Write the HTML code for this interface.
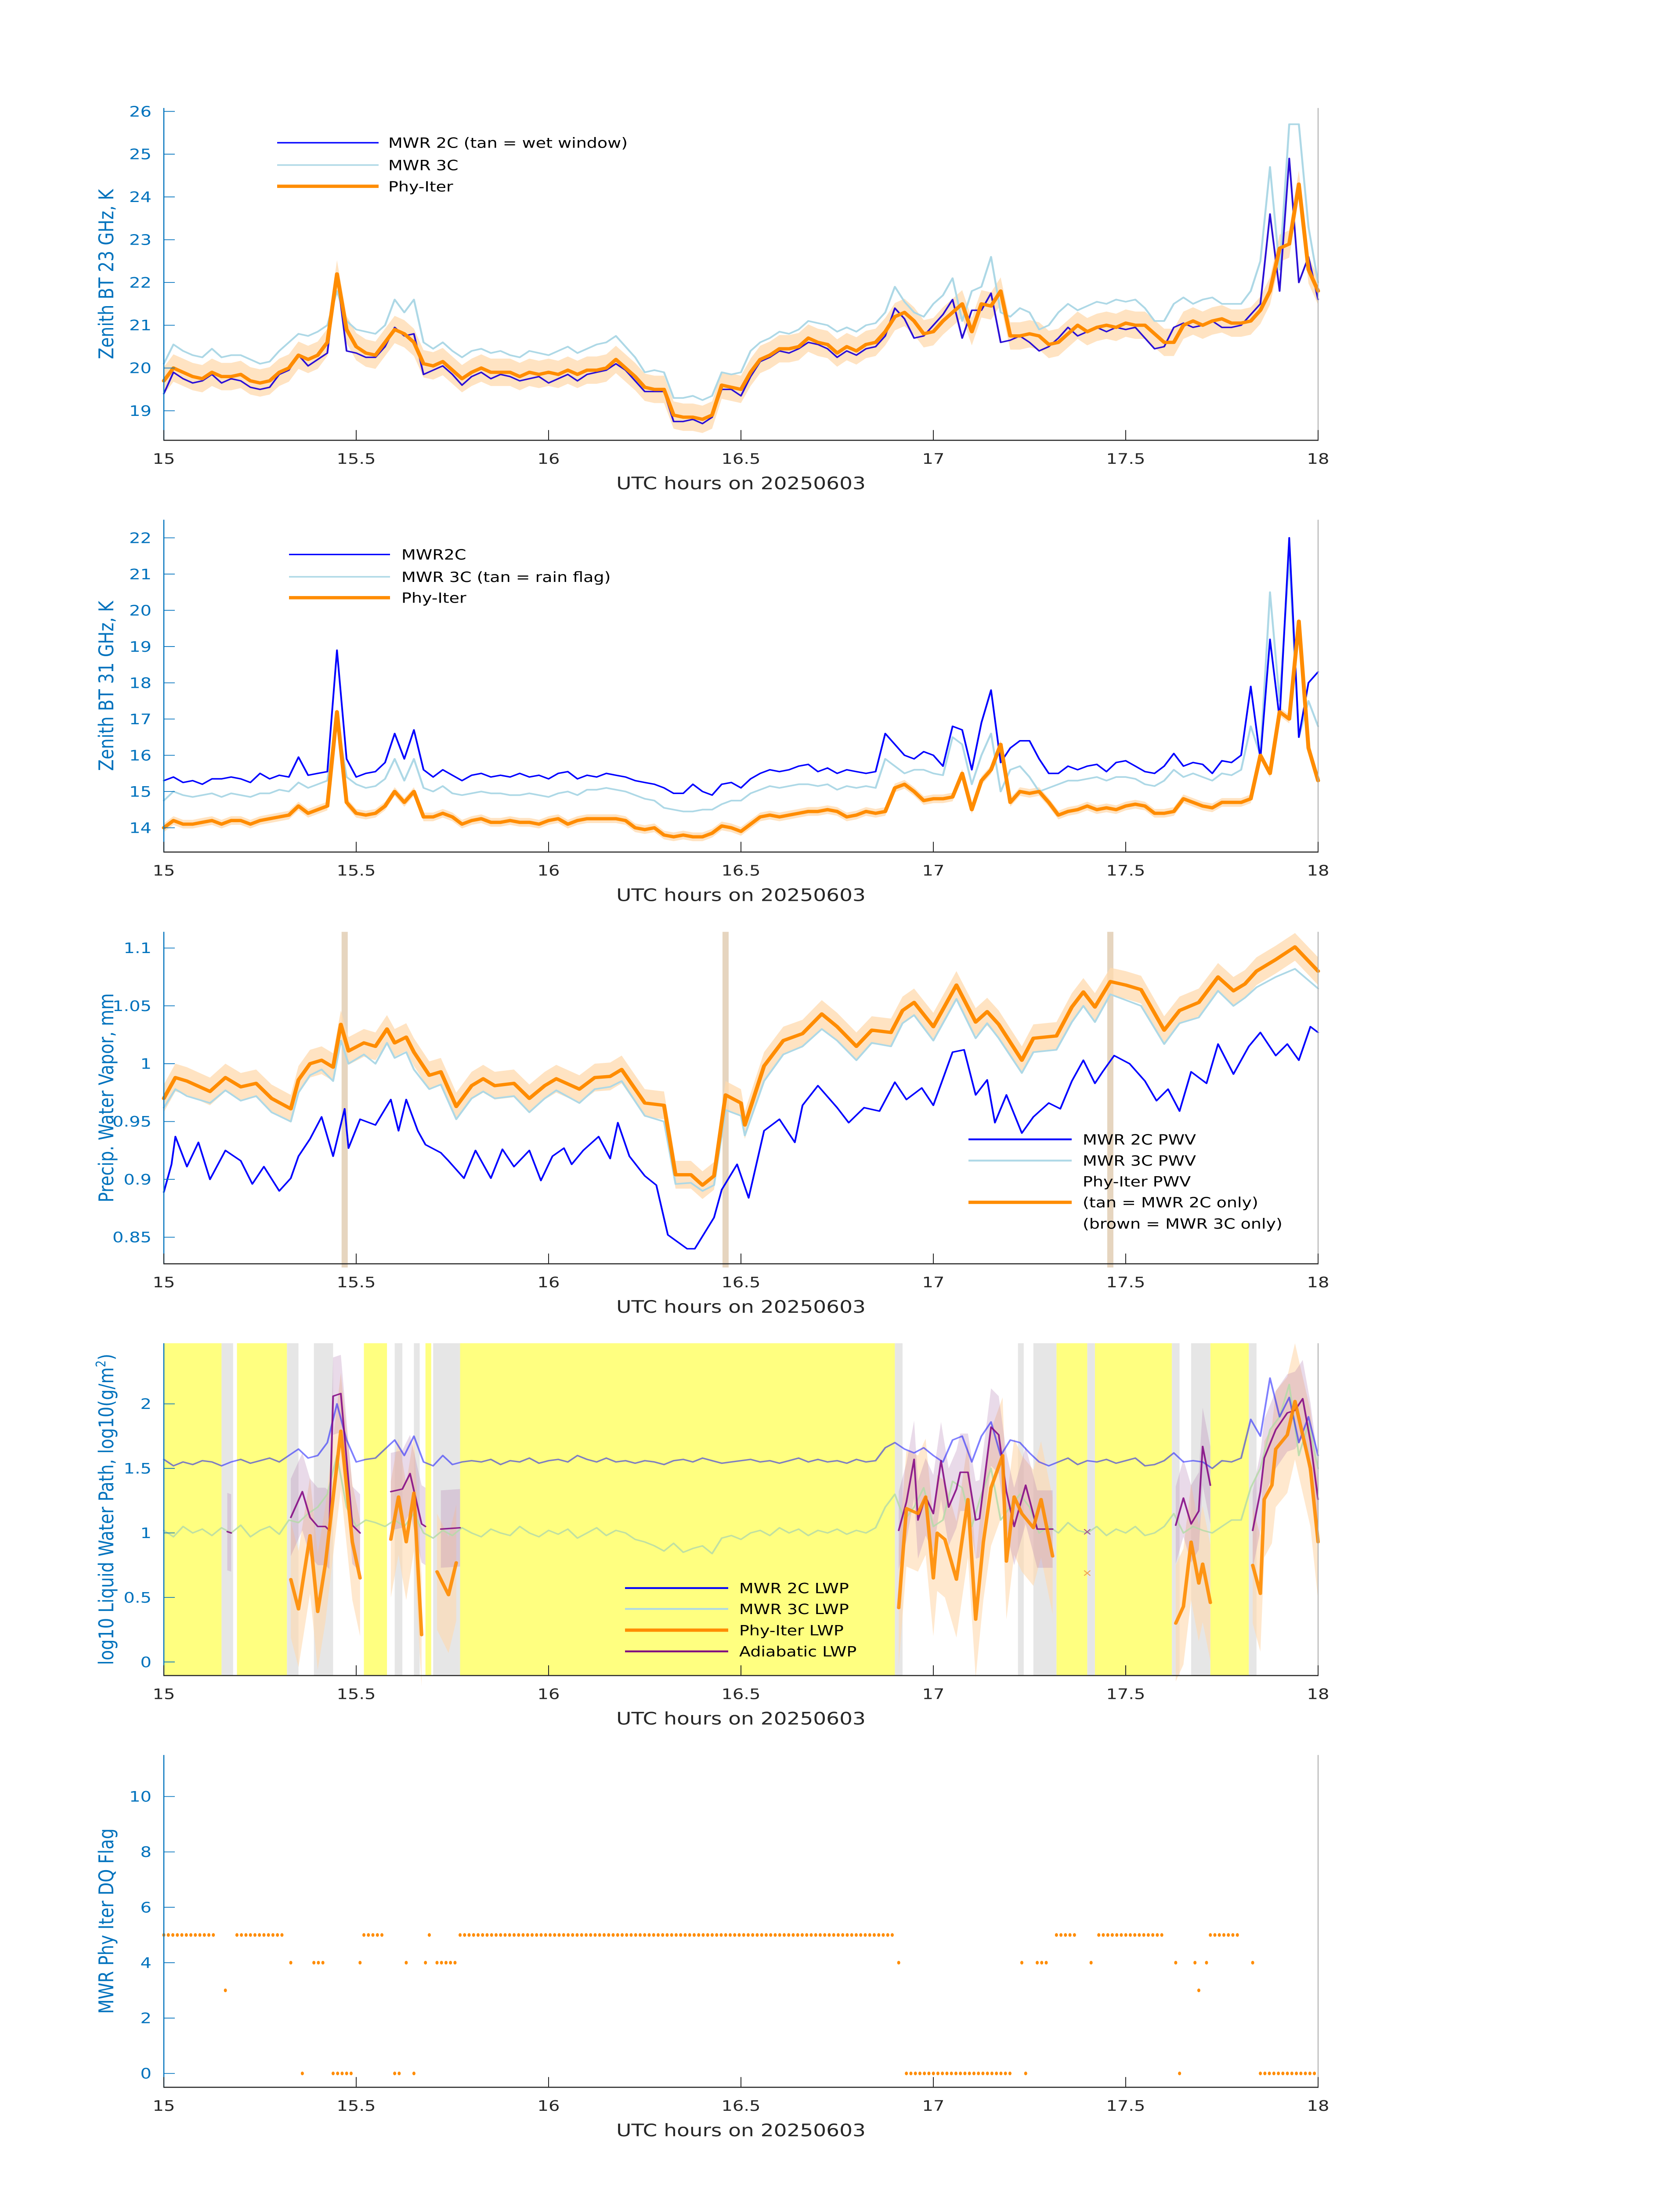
<!DOCTYPE html>
<html><head><meta charset="utf-8"><style>
html,body{margin:0;padding:0;background:#fff;width:100%;height:100%;overflow:hidden}
svg{display:block;position:absolute;left:0;top:0;width:100vw;height:100vh}
text{font-family:"DejaVu Sans","Liberation Sans",sans-serif}
</style></head>
<body>
<svg id="fig" viewBox="0 0 3825 6000" preserveAspectRatio="none" xmlns="http://www.w3.org/2000/svg">
<rect width="3825" height="6000" fill="#fff"/>
</svg>
<script>
// ---------- DATA ----------
const bt23Phy=[19.7,20.0,19.9,19.8,19.75,19.9,19.8,19.8,19.85,19.7,19.65,19.7,19.9,20.0,20.3,20.2,20.3,20.6,22.2,20.9,20.5,20.35,20.3,20.6,20.9,20.8,20.6,20.1,20.05,20.15,19.95,19.75,19.9,20.0,19.9,19.9,19.9,19.8,19.9,19.85,19.9,19.85,19.95,19.85,19.95,19.95,20.0,20.2,20.0,19.8,19.55,19.5,19.5,18.9,18.85,18.85,18.8,18.9,19.6,19.55,19.5,19.9,20.2,20.3,20.45,20.45,20.5,20.7,20.6,20.55,20.35,20.5,20.4,20.55,20.6,20.85,21.2,21.3,21.1,20.8,20.85,21.1,21.3,21.5,20.85,21.5,21.45,21.8,20.75,20.75,20.8,20.75,20.55,20.6,20.8,21.0,20.85,20.95,21.0,20.95,21.05,21.0,21.0,20.8,20.6,20.6,21.0,21.1,21.0,21.1,21.15,21.05,21.05,21.1,21.35,21.8,22.8,22.9,24.3,22.3,21.8];
const bt23Mwr2c=[19.4,19.9,19.75,19.65,19.7,19.85,19.65,19.75,19.7,19.55,19.5,19.55,19.85,19.95,20.3,20.05,20.2,20.35,22.2,20.4,20.35,20.25,20.25,20.5,20.95,20.75,20.8,19.85,19.95,20.05,19.85,19.6,19.8,19.9,19.75,19.85,19.8,19.7,19.75,19.8,19.65,19.75,19.85,19.7,19.85,19.9,19.95,20.1,19.95,19.7,19.45,19.45,19.45,18.75,18.75,18.8,18.7,18.85,19.5,19.5,19.35,19.8,20.15,20.25,20.4,20.35,20.45,20.6,20.55,20.45,20.25,20.4,20.3,20.45,20.5,20.75,21.4,21.15,20.7,20.75,21.0,21.25,21.6,20.7,21.35,21.35,21.75,20.6,20.65,20.75,20.6,20.4,20.5,20.7,20.95,20.75,20.85,20.95,20.85,20.95,20.9,20.95,20.7,20.45,20.5,20.95,21.05,20.95,21.0,21.1,20.95,20.95,21.0,21.25,21.5,23.6,21.8,24.9,22.0,22.6,21.6];
const bt23Mwr3c=[20.1,20.55,20.4,20.3,20.25,20.45,20.25,20.3,20.3,20.2,20.1,20.15,20.4,20.6,20.8,20.75,20.85,21.0,21.8,21.1,20.9,20.85,20.8,21.0,21.6,21.3,21.6,20.6,20.45,20.6,20.4,20.25,20.4,20.45,20.35,20.4,20.3,20.25,20.4,20.35,20.3,20.4,20.5,20.35,20.45,20.55,20.6,20.75,20.5,20.25,19.9,19.95,19.9,19.3,19.3,19.35,19.25,19.35,19.9,19.85,19.9,20.4,20.6,20.7,20.85,20.8,20.9,21.1,21.05,21.0,20.85,20.95,20.85,21.0,21.05,21.3,21.9,21.55,21.3,21.2,21.5,21.7,22.1,21.1,21.8,21.9,22.6,21.3,21.2,21.4,21.3,20.9,21.0,21.3,21.5,21.35,21.45,21.55,21.5,21.6,21.55,21.6,21.4,21.1,21.1,21.5,21.65,21.5,21.6,21.65,21.5,21.5,21.5,21.8,22.5,24.7,22.3,25.7,25.7,23.3,22.0];
const bt23Err=[0.32];
const bt31Phy=[14.0,14.2,14.1,14.1,14.15,14.2,14.1,14.2,14.2,14.1,14.2,14.25,14.3,14.35,14.6,14.4,14.5,14.6,17.2,14.7,14.4,14.35,14.4,14.6,15.0,14.7,15.0,14.3,14.3,14.4,14.3,14.1,14.2,14.25,14.15,14.15,14.2,14.15,14.15,14.1,14.2,14.25,14.1,14.2,14.25,14.25,14.25,14.25,14.2,14.0,13.95,14.0,13.8,13.75,13.8,13.75,13.75,13.85,14.05,14.0,13.9,14.1,14.3,14.35,14.3,14.35,14.4,14.45,14.45,14.5,14.45,14.3,14.35,14.45,14.4,14.45,15.1,15.2,15.0,14.75,14.8,14.8,14.85,15.5,14.5,15.3,15.6,16.3,14.7,15.0,14.95,15.0,14.7,14.35,14.45,14.5,14.6,14.5,14.55,14.5,14.6,14.65,14.6,14.4,14.4,14.45,14.8,14.7,14.6,14.55,14.7,14.7,14.7,14.8,16.0,15.5,17.2,17.0,19.7,16.2,15.3];
const bt31Mwr2c=[15.3,15.4,15.25,15.3,15.2,15.35,15.35,15.4,15.35,15.25,15.5,15.35,15.45,15.4,15.95,15.45,15.5,15.55,18.9,15.9,15.4,15.5,15.55,15.8,16.6,15.9,16.7,15.6,15.4,15.6,15.45,15.3,15.45,15.5,15.4,15.45,15.4,15.5,15.4,15.45,15.35,15.5,15.55,15.35,15.45,15.4,15.5,15.45,15.4,15.3,15.25,15.2,15.1,14.95,14.95,15.2,15.0,14.9,15.2,15.25,15.1,15.35,15.5,15.6,15.55,15.6,15.7,15.75,15.55,15.65,15.5,15.6,15.55,15.5,15.55,16.6,16.3,16.0,15.9,16.1,16.0,15.7,16.8,16.7,15.6,16.9,17.8,15.8,16.2,16.4,16.4,15.9,15.5,15.5,15.7,15.6,15.7,15.75,15.55,15.8,15.85,15.7,15.55,15.5,15.7,16.05,15.7,15.8,15.75,15.5,15.85,15.8,16.0,17.9,15.9,19.2,17.0,22.0,16.5,18.0,18.3];
const bt31Mwr3c=[14.75,15.0,14.9,14.85,14.9,14.95,14.85,14.95,14.9,14.85,14.95,14.95,15.05,15.0,15.25,15.1,15.2,15.3,17.0,15.4,15.2,15.1,15.15,15.35,15.9,15.3,15.9,15.1,15.0,15.15,14.95,14.9,14.95,15.0,14.95,14.95,14.9,14.9,14.95,14.9,14.85,14.95,15.0,14.9,15.05,15.05,15.1,15.05,15.0,14.9,14.8,14.75,14.55,14.5,14.45,14.45,14.5,14.5,14.65,14.75,14.75,14.95,15.05,15.15,15.1,15.15,15.2,15.2,15.15,15.2,15.05,15.15,15.1,15.15,15.1,15.9,15.7,15.5,15.6,15.6,15.5,15.45,16.5,16.3,15.2,16.0,16.6,15.0,15.6,15.7,15.4,15.0,15.1,15.2,15.3,15.3,15.35,15.4,15.3,15.4,15.4,15.35,15.2,15.15,15.3,15.6,15.4,15.5,15.4,15.3,15.5,15.45,15.6,16.8,16.0,20.5,17.5,21.5,16.5,17.5,16.8];
const bt31Err=[0.12];
const pwvPhyT=[15.0,15.03,15.06,15.12,15.16,15.2,15.24,15.28,15.33,15.35,15.38,15.41,15.44,15.46,15.48,15.52,15.55,15.58,15.6,15.63,15.65,15.69,15.72,15.76,15.8,15.83,15.86,15.91,15.95,15.99,16.02,16.08,16.12,16.16,16.19,16.25,16.3,16.33,16.37,16.4,16.43,16.46,16.5,16.51,16.56,16.61,16.66,16.71,16.75,16.8,16.84,16.89,16.92,16.95,17.0,17.06,17.11,17.14,17.17,17.23,17.26,17.32,17.36,17.39,17.42,17.46,17.5,17.54,17.6,17.64,17.69,17.74,17.78,17.81,17.84,17.89,17.94,18.0];
const pwvPhy=[0.970,0.988,0.985,0.976,0.988,0.98,0.983,0.97,0.961,0.986,1.0,1.003,0.997,1.034,1.011,1.018,1.015,1.03,1.018,1.023,1.01,0.99,0.993,0.963,0.981,0.987,0.981,0.983,0.97,0.981,0.987,0.978,0.988,0.989,0.995,0.966,0.964,0.904,0.904,0.895,0.903,0.973,0.966,0.947,0.998,1.02,1.026,1.043,1.032,1.015,1.029,1.027,1.046,1.053,1.032,1.068,1.036,1.045,1.034,1.003,1.022,1.024,1.049,1.062,1.049,1.071,1.068,1.064,1.029,1.046,1.053,1.075,1.063,1.069,1.08,1.09,1.101,1.08];
const pwvMwr3c=[0.962,0.978,0.972,0.966,0.977,0.968,0.972,0.958,0.95,0.975,0.99,0.995,0.985,1.02,1.0,1.008,1.0,1.018,1.005,1.01,0.995,0.978,0.982,0.952,0.97,0.976,0.97,0.972,0.958,0.97,0.977,0.966,0.978,0.98,0.985,0.955,0.95,0.896,0.897,0.89,0.895,0.96,0.955,0.938,0.985,1.008,1.015,1.03,1.02,1.003,1.018,1.015,1.035,1.042,1.02,1.056,1.022,1.035,1.022,0.992,1.01,1.012,1.036,1.05,1.036,1.06,1.055,1.05,1.017,1.035,1.04,1.063,1.05,1.057,1.066,1.075,1.082,1.065];
const pwvMwr2cT=[15.0,15.02,15.03,15.06,15.09,15.12,15.16,15.2,15.23,15.26,15.3,15.33,15.35,15.38,15.41,15.44,15.47,15.48,15.51,15.55,15.59,15.61,15.63,15.66,15.68,15.72,15.74,15.78,15.81,15.85,15.88,15.91,15.95,15.98,16.01,16.04,16.06,16.09,16.13,16.16,16.18,16.21,16.25,16.28,16.31,16.36,16.38,16.43,16.45,16.49,16.52,16.56,16.6,16.64,16.66,16.7,16.75,16.78,16.82,16.86,16.9,16.93,16.97,17.0,17.05,17.08,17.11,17.14,17.16,17.19,17.23,17.26,17.3,17.33,17.36,17.39,17.42,17.44,17.47,17.51,17.55,17.58,17.61,17.64,17.67,17.71,17.74,17.78,17.82,17.85,17.89,17.92,17.95,17.98,18.0];
const pwvMwr2c=[0.889,0.913,0.937,0.911,0.932,0.9,0.925,0.916,0.896,0.911,0.89,0.901,0.92,0.935,0.954,0.92,0.961,0.927,0.952,0.947,0.969,0.942,0.969,0.942,0.93,0.923,0.916,0.901,0.925,0.901,0.926,0.911,0.925,0.899,0.92,0.927,0.913,0.925,0.937,0.918,0.949,0.92,0.903,0.895,0.852,0.84,0.84,0.867,0.891,0.913,0.884,0.942,0.952,0.932,0.964,0.981,0.962,0.949,0.962,0.959,0.984,0.969,0.979,0.964,1.01,1.012,0.973,0.986,0.949,0.973,0.94,0.954,0.966,0.961,0.985,1.003,0.983,0.993,1.007,1.0,0.985,0.968,0.978,0.959,0.993,0.983,1.017,0.991,1.015,1.027,1.007,1.017,1.003,1.032,1.027];
const pwvErr=[0.012];
const pwvFlagT=[15.47,16.46,17.46];
const lwpMwr2c=[1.57,1.52,1.55,1.53,1.56,1.55,1.52,1.55,1.57,1.54,1.56,1.58,1.55,1.6,1.65,1.58,1.6,1.7,2.0,1.72,1.55,1.57,1.58,1.65,1.72,1.6,1.75,1.55,1.52,1.6,1.53,1.55,1.56,1.55,1.57,1.53,1.56,1.55,1.58,1.54,1.56,1.57,1.55,1.6,1.57,1.55,1.58,1.55,1.56,1.54,1.56,1.55,1.53,1.56,1.57,1.55,1.58,1.56,1.54,1.55,1.56,1.57,1.55,1.56,1.54,1.56,1.58,1.55,1.57,1.55,1.56,1.54,1.57,1.55,1.56,1.66,1.7,1.65,1.62,1.66,1.6,1.55,1.72,1.75,1.55,1.75,1.86,1.6,1.72,1.7,1.62,1.55,1.52,1.55,1.58,1.53,1.56,1.55,1.57,1.54,1.56,1.58,1.52,1.53,1.56,1.62,1.55,1.56,1.55,1.5,1.56,1.55,1.58,1.88,1.75,2.2,1.9,2.05,1.7,1.9,1.6];
const lwpMwr3c=[1.02,0.97,1.05,1.0,1.03,0.98,1.04,1.0,1.06,0.97,1.02,1.05,0.99,1.1,1.08,1.15,1.2,1.3,1.6,1.2,1.05,1.1,1.08,1.05,1.1,1.05,1.15,1.0,0.96,1.02,0.98,1.04,1.0,0.97,1.03,1.0,0.98,1.05,1.0,0.97,1.02,0.99,1.03,0.96,1.0,1.04,0.98,1.02,1.0,0.95,0.93,0.9,0.86,0.92,0.85,0.88,0.9,0.84,0.96,0.98,0.95,1.0,1.02,0.98,1.04,1.0,1.03,0.98,1.02,1.0,1.03,0.99,1.02,1.0,1.04,1.2,1.3,1.1,1.2,1.35,1.05,1.1,1.4,1.35,1.05,1.3,1.5,1.1,1.2,1.3,1.2,1.0,1.05,1.0,1.08,1.02,1.0,1.05,0.98,1.03,1.0,1.05,0.98,1.0,1.05,1.15,1.0,1.05,1.02,1.0,1.05,1.1,1.1,1.35,1.5,1.8,1.9,2.15,1.6,1.85,1.5];
const lwpPhyT=[15.33,15.35,15.38,15.4,15.42,15.46,15.49,15.51,null,15.59,15.61,15.63,15.65,15.67,null,15.71,15.74,15.76,null,16.91,16.93,16.96,16.98,17.0,17.01,17.03,17.06,17.09,17.11,17.13,17.15,17.18,17.19,17.21,17.23,17.26,17.28,17.31,null,17.63,17.65,17.67,17.69,17.7,17.72,null,17.83,17.85,17.86,17.88,17.89,17.92,17.94,17.98,18.0];
const lwpPhy=[0.64,0.41,0.98,0.39,0.76,1.79,0.93,0.65,null,0.95,1.28,0.93,1.31,0.21,null,0.7,0.52,0.77,null,0.42,1.19,1.15,1.28,0.65,1.0,0.95,0.64,1.26,0.33,0.93,1.35,1.6,0.78,1.28,1.15,1.04,1.26,0.82,null,0.3,0.43,0.93,0.61,0.76,0.46,null,0.75,0.53,1.26,1.37,1.65,1.76,2.02,1.5,0.93];
const lwpAdiT=[15.165,15.175,null,15.33,15.36,15.38,15.4,15.42,15.43,15.44,15.46,15.49,15.51,null,15.59,15.62,15.64,15.67,15.68,null,15.72,15.77,null,16.91,16.93,16.95,16.96,16.98,17.0,17.02,17.04,17.06,17.07,17.09,17.11,17.12,17.15,17.17,17.19,17.21,17.24,17.27,17.31,null,17.63,17.65,17.67,17.69,17.7,17.72,null,17.83,17.85,17.86,17.89,17.92,17.94,17.96,17.98,18.0];
const lwpAdi=[1.01,1.0,null,1.12,1.32,1.12,1.05,1.05,1.02,2.06,2.08,1.06,1.0,null,1.32,1.34,1.46,1.07,1.05,null,1.03,1.04,null,1.02,1.24,1.57,1.1,1.28,1.15,1.56,1.2,1.34,1.47,1.47,1.1,1.11,1.82,1.76,1.32,1.05,1.37,1.03,1.03,null,1.06,1.27,1.07,1.17,1.67,1.37,null,1.02,1.32,1.58,1.8,1.93,1.95,2.04,1.71,1.26];
const lwpErr=[0.45];
const adiErr=[0.3];
const clearStart=[15.0,15.19,15.52,15.68,15.77,17.32,17.42,17.72];
const clearEnd=[15.15,15.32,15.58,15.695,16.9,17.4,17.62,17.82];
const greyStart=[15.15,15.32,15.39,15.6,15.65,15.7,16.9,17.22,17.26,17.4,17.62,17.67,17.82];
const greyEnd=[15.18,15.35,15.44,15.62,15.665,15.77,16.92,17.235,17.32,17.42,17.64,17.72,17.84];
const lwpMarkT=[17.4,17.4];
const lwpMarkV=[1.01,0.69];
const flagRunStart=[15.0,15.19,15.52,15.69,15.77,17.32,17.43,17.72,15.33,15.39,15.51,15.63,15.68,15.71,16.91,17.23,17.27,17.41,17.63,17.68,17.71,17.83,15.16,17.69,15.36,15.44,15.6,15.65,16.93,17.24,17.64,17.85];
const flagRunEnd=[15.14,15.31,15.57,15.69,16.9,17.37,17.6,17.8,15.34,15.42,15.51,15.63,15.68,15.76,16.91,17.23,17.3,17.41,17.63,17.68,17.71,17.83,15.17,17.69,15.37,15.49,15.62,15.66,17.2,17.25,17.65,18.0];
const flagRunValue=[5,5,5,5,5,5,5,5,4,4,4,4,4,4,4,4,4,4,4,4,4,4,3,3,0,0,0,0,0,0,0,0];

// ---------- DRAWING ----------
const NS="http://www.w3.org/2000/svg";
const svg=document.getElementById('fig');
const X0=373,X1=3001,T0=15,T1=18;
function xs(t){return X0+(t-T0)*(X1-X0)/(T1-T0);}
function mk(tag,attrs,parent){const e=document.createElementNS(NS,tag);for(const k in attrs)e.setAttribute(k,attrs[k]);(parent||svg).appendChild(e);return e;}
function gridT(n){const a=[];for(let i=0;i<n;i++)a.push(T0+(T1-T0)*i/(n-1));return a;}
function pathFrom(ts,vs,ys){let d='',pen=false;for(let i=0;i<ts.length;i++){if(ts[i]===null||vs[i]===null){pen=false;continue;}d+=(pen?'L':'M')+xs(ts[i]).toFixed(1)+' '+ys(vs[i]).toFixed(1);pen=true;}return d;}
function bandFrom(ts,vs,err,ys,yclip){const segs=[];let cur=[];for(let i=0;i<ts.length;i++){if(ts[i]===null||vs[i]===null){if(cur.length)segs.push(cur);cur=[];continue;}cur.push(i);}if(cur.length)segs.push(cur);
 return segs.map(s=>{let up=s.map(i=>xs(ts[i]).toFixed(1)+' '+Math.max(yclip[0],ys(vs[i]+err)).toFixed(1));let dn=s.slice().reverse().map(i=>xs(ts[i]).toFixed(1)+' '+Math.min(yclip[1],ys(vs[i]-err)).toFixed(1));
  if(s.length===1){const i=s[0];const x=xs(ts[i]);up=[(x-4)+' '+ys(vs[i]+err),(x+4)+' '+ys(vs[i]+err)];dn=[(x+4)+' '+ys(vs[i]-err),(x-4)+' '+ys(vs[i]-err)];}
  return 'M'+up.join('L')+'L'+dn.join('L')+'Z';}).join(' ');}

function axes(p){
 const g=mk('g',{});
 
 
 p.ys=v=>p.bottom-(v-p.ymin)/(p.ymax-p.ymin)*(p.bottom-p.top);
 return g;
}
function frame(p){
 const g=mk('g',{});
 
 
 const r=mk('line',{x1:X1,y1:p.top,x2:X1,y2:p.bottom,stroke:'#aaa','stroke-width':2},g);
 
 
 const l=mk('line',{x1:X0,y1:p.top,x2:X0,y2:p.bottom,stroke:'#0072bd','stroke-width':2.5},g);
 
 
 const b=mk('line',{x1:X0-1,y1:p.bottom,x2:X1+1,y2:p.bottom,stroke:'#262626','stroke-width':3},g);
 
 
 const xt=[15,15.5,16,16.5,17,17.5,18],xl=['15','15.5','16','16.5','17','17.5','18'];
 xt.forEach((t,i)=>{
  const tk=mk('line',{x1:xs(t),y1:p.bottom,x2:xs(t),y2:p.bottom-28,stroke:'#262626','stroke-width':2},g);
  
  
  const tx=mk('text',{x:xs(t),y:p.bottom+64,'font-size':40,'text-anchor':'middle',fill:'#262626'},g);
  
  
  tx.textContent=xl[i];
 });
 p.yt.forEach((v,i)=>{
  const tk=mk('line',{x1:X0,y1:p.ys(v),x2:X0+25,y2:p.ys(v),stroke:'#0072bd','stroke-width':2},g);
  
  
  const tx=mk('text',{x:345,y:p.ys(v)+14,'font-size':40,'text-anchor':'end',fill:'#0072bd'},g);
  
  
  tx.textContent=p.yl[i];
 });
 const xt2=mk('text',{x:(X0+X1)/2,y:p.bottom+134,'font-size':47,'text-anchor':'middle',fill:'#262626'},g);
 
 
 xt2.textContent='UTC hours on 20250603';
 const cy=(p.top+p.bottom)/2;
 const yt=mk('text',{x:0,y:0,'font-size':46,'text-anchor':'middle',fill:'#0072bd',transform:'translate(258 '+cy+') rotate(-90)'},g);
 
 
 if(p.ylabelHTML){yt.innerHTML=p.ylabelHTML;}else yt.textContent=p.ylabel;
}
function line(d,color,w,name,op){const e=mk('path',{d:d,fill:'none',stroke:color,'stroke-width':w,'stroke-linejoin':'round','stroke-linecap':'round','stroke-opacity':op||1});
 
 return e;}
function band(d,color,op,name){const e=mk('path',{d:d,fill:color,'fill-opacity':op,stroke:'none'});
 
 return e;}
function legend(x1,x2,tx,items,name){
 const g=mk('g',{});
 
 
 items.forEach(it=>{
  if(it.c){const l=mk('line',{x1:x1,y1:it.y,x2:x2,y2:it.y,stroke:it.c,'stroke-width':it.w},g);
   
   }
  const t=mk('text',{x:tx,y:it.y+14,'font-size':38,fill:'#000'},g);
  
  
  t.textContent=it.t;
 });
}
const ORANGE='#ff8c00',TANF='#ffd9ad',BLUE='#0000ff',LBLUE='#add8e6',PURP='#800080';

const p1={name:'bt23-panel',top:295,bottom:1203,ymin:18.31,ymax:26.08,yt:[19,20,21,22,23,24,25,26],yl:['19','20','21','22','23','24','25','26'],ylabel:'Zenith BT 23 GHz, K'};
axes(p1);
band(bandFrom(gridT(bt23Phy.length),bt23Phy,bt23Err[0],p1.ys,[p1.top,p1.bottom]),TANF,0.75,'bt23-phy-uncertainty-band');
line(pathFrom(gridT(bt23Mwr3c.length),bt23Mwr3c,p1.ys),LBLUE,4.5,'bt23-mwr3c-line');
line(pathFrom(gridT(bt23Mwr2c.length),bt23Mwr2c,p1.ys),'#2a0fd6',4,'bt23-mwr2c-line');
line(pathFrom(gridT(bt23Phy.length),bt23Phy,p1.ys),ORANGE,9,'bt23-phy-iter-line');
frame(p1);
legend(631,862,884,[{y:390,c:BLUE,w:4,t:'MWR 2C (tan = wet window)'},{y:451,c:LBLUE,w:4,t:'MWR 3C'},{y:509,c:ORANGE,w:9,t:'Phy-Iter'}],'bt23-legend');

const p2={name:'bt31-panel',top:1420,bottom:2328,ymin:13.33,ymax:22.5,yt:[14,15,16,17,18,19,20,21,22],yl:['14','15','16','17','18','19','20','21','22'],ylabel:'Zenith BT 31 GHz, K'};
axes(p2);
band(bandFrom(gridT(bt31Phy.length),bt31Phy,bt31Err[0],p2.ys,[p2.top,p2.bottom]),TANF,0.75,'bt31-phy-uncertainty-band');
line(pathFrom(gridT(bt31Mwr3c.length),bt31Mwr3c,p2.ys),LBLUE,4.5,'bt31-mwr3c-line');
line(pathFrom(gridT(bt31Mwr2c.length),bt31Mwr2c,p2.ys),BLUE,4,'bt31-mwr2c-line');
line(pathFrom(gridT(bt31Phy.length),bt31Phy,p2.ys),ORANGE,9,'bt31-phy-iter-line');
frame(p2);
legend(658,888,914,[{y:1515,c:BLUE,w:4,t:'MWR2C'},{y:1576,c:LBLUE,w:4,t:'MWR 3C (tan = rain flag)'},{y:1633,c:ORANGE,w:9,t:'Phy-Iter'}],'bt31-legend');

const p3={name:'pwv-panel',top:2546,bottom:3453,ymin:0.827,ymax:1.114,yt:[0.85,0.9,0.95,1,1.05,1.1],yl:['0.85','0.9','0.95','1','1.05','1.1'],ylabel:'Precip. Water Vapor, mm'};
axes(p3);
pwvFlagT.forEach(t=>{const r=mk('rect',{x:xs(t)-7,y:p3.top,width:14,height:p3.bottom-p3.top+10,fill:'#e6d5bf'});
 
 });
band(bandFrom(pwvPhyT,pwvPhy,pwvErr[0],p3.ys,[p3.top,p3.bottom]),TANF,0.75,'pwv-phy-uncertainty-band');
line(pathFrom(pwvPhyT,pwvMwr3c,p3.ys),LBLUE,4.5,'pwv-mwr3c-line');
line(pathFrom(pwvMwr2cT,pwvMwr2c,p3.ys),BLUE,4,'pwv-mwr2c-line');
line(pathFrom(pwvPhyT,pwvPhy,p3.ys),ORANGE,9,'pwv-phy-iter-line');
frame(p3);
legend(2205,2440,2465,[{y:3113,c:BLUE,w:5,t:'MWR 2C PWV'},{y:3171,c:LBLUE,w:5,t:'MWR 3C PWV'},{y:3228,t:'Phy-Iter PWV'},{y:3285,c:ORANGE,w:9,t:'(tan = MWR 2C only)'},{y:3343,t:'(brown = MWR 3C only)'}],'pwv-legend');

const p4={name:'lwp-panel',top:3670,bottom:4578,ymin:-0.105,ymax:2.47,yt:[0,0.5,1,1.5,2],yl:['0','0.5','1','1.5','2'],ylabelHTML:'log10 Liquid Water Path, log10(g/m<tspan font-size="30" dy="-18">2</tspan><tspan dy="18">)</tspan>'};
axes(p4);
clearStart.forEach((s,i)=>{const r=mk('rect',{x:xs(s),y:p4.top,width:xs(clearEnd[i])-xs(s),height:p4.bottom-p4.top,fill:'#ffff80'});
 
 });
greyStart.forEach((s,i)=>{const r=mk('rect',{x:xs(s),y:p4.top,width:xs(greyEnd[i])-xs(s),height:p4.bottom-p4.top,fill:'#e6e6e6'});
 
 });
band(bandFrom(lwpPhyT,lwpPhy,lwpErr[0],p4.ys,[p4.top,p4.bottom+30]),'#ffd9ad',0.6,'lwp-phy-uncertainty-band');
band(bandFrom(lwpAdiT,lwpAdi,adiErr[0],p4.ys,[p4.top,p4.bottom]),'#b07ab0',0.28,'lwp-adiabatic-band');
line(pathFrom(gridT(lwpMwr3c.length),lwpMwr3c,p4.ys),'#b5dba8',4,'lwp-mwr3c-line',0.85);
line(pathFrom(gridT(lwpMwr2c.length),lwpMwr2c,p4.ys),BLUE,4,'lwp-mwr2c-line',0.5);
line(pathFrom(lwpAdiT,lwpAdi,p4.ys),PURP,4,'lwp-adiabatic-line',0.85);
line(pathFrom(lwpPhyT,lwpPhy,p4.ys),ORANGE,8,'lwp-phy-iter-line',0.9);
lwpMarkT.forEach((t,i)=>{const m=mk('text',{x:xs(t),y:p4.ys(lwpMarkV[i])+9,'font-size':28,'text-anchor':'middle',fill:i?'#f0a050':'#a05090'});
 
 
 m.textContent='×';});
frame(p4);
legend(1423,1658,1683,[{y:4339,c:BLUE,w:5,t:'MWR 2C LWP'},{y:4396,c:LBLUE,w:5,t:'MWR 3C LWP'},{y:4454,c:ORANGE,w:9,t:'Phy-Iter LWP'},{y:4512,c:PURP,w:5,t:'Adiabatic LWP'}],'lwp-legend');

const p5={name:'dq-flag-panel',top:4795,bottom:5703,ymin:-0.5,ymax:11.5,yt:[0,2,4,6,8,10],yl:['0','2','4','6','8','10'],ylabel:'MWR Phy Iter DQ Flag'};
axes(p5);
const DT=0.0117;
flagRunStart.forEach((s,i)=>{
 for(let t=s;t<=flagRunEnd[i]+1e-6;t+=DT){
  const c=mk('ellipse',{cx:xs(t),cy:p5.ys(flagRunValue[i]),rx:3.5,ry:5,fill:ORANGE});
  
  
 }
});
frame(p5);
</script>
</body></html>
